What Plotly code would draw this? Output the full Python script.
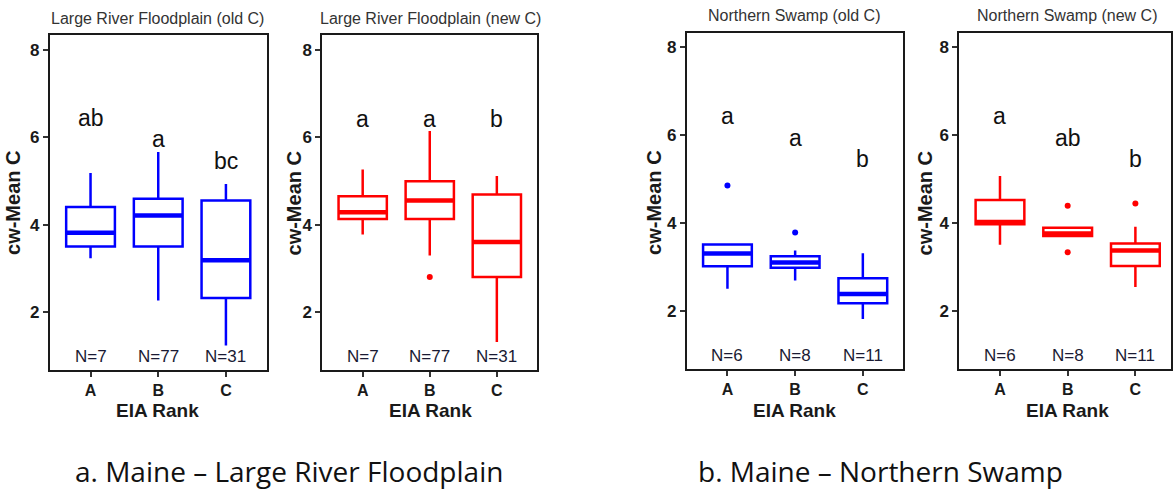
import plotly.graph_objects as go

W, H = 1173, 493

categories = ["A", "B", "C"]
panel_titles = ["Large River Floodplain (old C)", "Large River Floodplain (new C)",
                "Northern Swamp (old C)", "Northern Swamp (new C)"]
panel_colors = ["#0000FF", "#FF0000", "#0000FF", "#FF0000"]

# box statistics per panel (A, B, C)
lrf_old_lower = [3.23, 2.26, 1.23]
lrf_old_q1 = [3.50, 3.50, 2.32]
lrf_old_med = [3.81, 4.21, 3.18]
lrf_old_q3 = [4.40, 4.59, 4.55]
lrf_old_upper = [5.18, 5.66, 4.93]
lrf_old_out = [[], [], []]

lrf_new_lower = [3.77, 3.29, 1.31]
lrf_new_q1 = [4.13, 4.13, 2.80]
lrf_new_med = [4.28, 4.55, 3.60]
lrf_new_q3 = [4.65, 4.99, 4.69]
lrf_new_upper = [5.26, 6.14, 5.11]
lrf_new_out = [[], [2.80], []]

ns_old_lower = [2.50, 2.69, 1.81]
ns_old_q1 = [3.01, 2.98, 2.17]
ns_old_med = [3.30, 3.10, 2.38]
ns_old_q3 = [3.51, 3.24, 2.74]
ns_old_upper = [3.53, 3.37, 3.31]
ns_old_out = [[4.85], [3.78], []]

ns_new_lower = [3.50, 3.69, 2.54]
ns_new_q1 = [3.97, 3.70, 3.02]
ns_new_med = [4.02, 3.76, 3.37]
ns_new_q3 = [4.52, 3.89, 3.53]
ns_new_upper = [5.07, 3.91, 3.91]
ns_new_out = [[], [4.39, 3.33], [4.44]]

letters = [["ab", "a", "bc"], ["a", "a", "b"], ["a", "a", "b"], ["a", "ab", "b"]]
letter_y = [[6.44, 5.95, 5.45], [6.42, 6.42, 6.42], [6.43, 5.93, 5.45], [6.43, 5.93, 5.45]]
n_labels = [["N=7", "N=77", "N=31"], ["N=7", "N=77", "N=31"],
            ["N=6", "N=8", "N=11"], ["N=6", "N=8", "N=11"]]
n_y = 0.98
y_ticks = [2, 4, 6, 8]
y_title = "cw-Mean C"
x_title = "EIA Rank"
captions = ["a. Maine \u2013 Large River Floodplain", "b. Maine \u2013 Northern Swamp"]

panels = [
    (lrf_old_lower, lrf_old_q1, lrf_old_med, lrf_old_q3, lrf_old_upper, lrf_old_out),
    (lrf_new_lower, lrf_new_q1, lrf_new_med, lrf_new_q3, lrf_new_upper, lrf_new_out),
    (ns_old_lower, ns_old_q1, ns_old_med, ns_old_q3, ns_old_upper, ns_old_out),
    (ns_new_lower, ns_new_q1, ns_new_med, ns_new_q3, ns_new_upper, ns_new_out),
]

# layout in pixels
x_dom_px = [(50, 267), (323, 538), (688, 905), (961, 1173)]
y_dom_px = [(35, 370), (35, 370), (32.5, 369), (32.5, 369)]
x_ranges = [[-0.6, 2.6], [-0.6, 2.6], [-0.6, 2.6], [-0.6, 2.526]]
y_range = [0.67, 8.34]
title_x_px = [158, 431, 796, 1069]
title_y_px = [18, 18, 15, 15]
ytitle_x_px = [13, 295, 655, 927]
BOXW = 0.72

fig = go.Figure()
pos = list(range(len(categories)))
FONT = "Liberation Sans, Arial, sans-serif"

for i, (lo, q1, med, q3, up, outs) in enumerate(panels):
    ax = "" if i == 0 else str(i + 1)
    col = panel_colors[i]
    fig.add_trace(go.Box(
        x=pos, q1=q1, median=med, q3=q3, lowerfence=lo, upperfence=up,
        width=BOXW, whiskerwidth=0, fillcolor="rgba(0,0,0,0)",
        line=dict(color=col, width=2.5), boxpoints=False,
        xaxis="x" + ax, yaxis="y" + ax, hoverinfo="skip"))
    # thicker median line
    mx, my = [], []
    for p, m in zip(pos, med):
        mx += [p - BOXW / 2, p + BOXW / 2, None]
        my += [m, m, None]
    fig.add_trace(go.Scatter(x=mx, y=my, mode="lines",
                             line=dict(color=col, width=4.5),
                             xaxis="x" + ax, yaxis="y" + ax, hoverinfo="skip"))
    ox, oy = [], []
    for p, o in zip(pos, outs):
        ox += [p] * len(o)
        oy += o
    if ox:
        fig.add_trace(go.Scatter(x=ox, y=oy, mode="markers",
                                 marker=dict(color=col, size=6),
                                 xaxis="x" + ax, yaxis="y" + ax, hoverinfo="skip"))

    x0, x1 = x_dom_px[i]
    yt, yb = y_dom_px[i]
    fig.update_layout(**{
        "xaxis" + ax: dict(domain=[x0 / W, x1 / W], range=x_ranges[i],
                           tickvals=pos, ticktext=categories, ticks="outside",
                           ticklen=5, tickwidth=1.5, tickcolor="#333",
                           showline=True, linewidth=2, linecolor="#1a1a1a", mirror=True,
                           showgrid=False, zeroline=False, anchor="y" + ax,
                           tickfont=dict(family=FONT, size=16, color="#1a1a1a", weight="bold")),
        "yaxis" + ax: dict(domain=[1 - yb / H, 1 - yt / H], range=y_range,
                           tickvals=y_ticks, ticks="outside",
                           ticklen=5, tickwidth=1.5, tickcolor="#333",
                           showline=True, linewidth=2, linecolor="#1a1a1a", mirror=True,
                           showgrid=False, zeroline=False, anchor="x" + ax,
                           tickfont=dict(family=FONT, size=17, color="#1a1a1a", weight="bold")),
    })

    # panel title
    fig.add_annotation(x=title_x_px[i] / W, y=1 - title_y_px[i] / H, xref="paper", yref="paper",
                       text=panel_titles[i], showarrow=False, xanchor="center", yanchor="middle",
                       font=dict(family=FONT, size=16, color="#333333"))
    # y title
    fig.add_annotation(x=ytitle_x_px[i] / W, y=1 - 203 / H, xref="paper", yref="paper",
                       text=y_title, showarrow=False, textangle=-90,
                       xanchor="center", yanchor="middle",
                       font=dict(family=FONT, size=20, color="#1a1a1a", weight="bold"))
    # x title
    fig.add_annotation(x=title_x_px[i] / W, y=1 - 410 / H, xref="paper", yref="paper",
                       text=x_title, showarrow=False, xanchor="center", yanchor="middle",
                       font=dict(family=FONT, size=19, color="#1a1a1a", weight="bold"))
    for p, lt, ly, nl in zip(pos, letters[i], letter_y[i], n_labels[i]):
        fig.add_annotation(x=p, y=ly, xref="x" + ax, yref="y" + ax, text=lt,
                           showarrow=False, xanchor="center", yanchor="middle",
                           font=dict(family=FONT, size=23, color="#111111"))
        fig.add_annotation(x=p, y=n_y, xref="x" + ax, yref="y" + ax, text=nl,
                           showarrow=False, xanchor="center", yanchor="middle",
                           font=dict(family=FONT, size=17, color="#1a1a33"))

cap_x_px = [289, 882]
for cx, ct in zip(cap_x_px, captions):
    fig.add_annotation(x=cx / W, y=1 - 471 / H, xref="paper", yref="paper", text=ct,
                       showarrow=False, xanchor="center", yanchor="middle",
                       font=dict(family="Open Sans, sans-serif", size=28, color="#111111"))

fig.update_layout(width=W, height=H, margin=dict(l=0, r=0, t=0, b=0),
                  paper_bgcolor="white", plot_bgcolor="white", showlegend=False)

fig.write_html("out.html")
